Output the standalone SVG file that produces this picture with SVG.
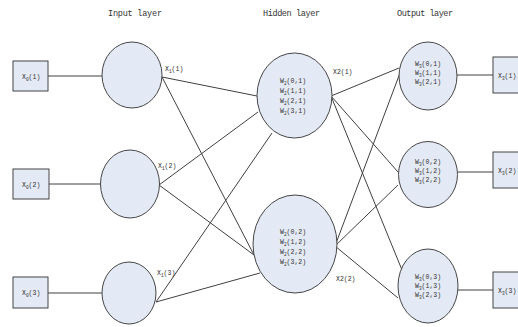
<svg xmlns="http://www.w3.org/2000/svg" width="518" height="327" viewBox="0 0 518 327">
<style>
.bg{fill:#ffffff}
.n{fill:#e4eaf5;stroke:#454545;stroke-width:1}
.c line{stroke:#404040;stroke-width:1}
text{font-family:"Liberation Mono","DejaVu Sans Mono",monospace;fill:#333}
.t{font-size:8.5px}
.s{font-size:6.5px}
.sub{font-size:4.5px}
</style>
<rect class="bg" x="0" y="0" width="518" height="327"/>
<g id="titles">
<text class="t" x="108" y="16" textLength="54">Input layer</text>
<text class="t" x="263" y="16" textLength="57">Hidden layer</text>
<text class="t" x="397" y="16" textLength="56">Output layer</text>
</g>
<g id="connectors" class="c">
<line x1="48" y1="76" x2="102" y2="76"/>
<line x1="49" y1="184" x2="100" y2="184"/>
<line x1="48" y1="293" x2="102" y2="293"/>
<line x1="162" y1="77" x2="257" y2="96"/>
<line x1="162" y1="77" x2="254" y2="255"/>
<line x1="159" y1="185" x2="258" y2="112"/>
<line x1="159" y1="185" x2="254" y2="255"/>
<line x1="156" y1="302" x2="272" y2="133"/>
<line x1="156" y1="302" x2="260" y2="273"/>
<line x1="331" y1="96" x2="399" y2="68"/>
<line x1="331" y1="96" x2="398" y2="172"/>
<line x1="331" y1="96" x2="402" y2="270"/>
<line x1="335" y1="246" x2="400" y2="73"/>
<line x1="335" y1="246" x2="398" y2="185"/>
<line x1="335" y1="246" x2="398" y2="298"/>
<line x1="457" y1="75" x2="493" y2="75"/>
<line x1="458" y1="172" x2="493" y2="172"/>
<line x1="458" y1="290" x2="493" y2="290"/>
</g>
<g id="in-box-1"><rect class="n" x="13" y="61" width="35" height="30"/><text class="s" x="22" y="79">X<tspan class="sub" dy="1.5">0</tspan><tspan dy="-1.5">(1)</tspan></text></g>
<g id="in-box-2"><rect class="n" x="13" y="169" width="36" height="30"/><text class="s" x="22" y="187">X<tspan class="sub" dy="1.5">0</tspan><tspan dy="-1.5">(2)</tspan></text></g>
<g id="in-box-3"><rect class="n" x="13" y="277" width="35" height="31"/><text class="s" x="22" y="295">X<tspan class="sub" dy="1.5">0</tspan><tspan dy="-1.5">(3)</tspan></text></g>
<g id="input-1"><ellipse class="n" cx="132" cy="75" rx="30" ry="33"/></g>
<g id="input-2"><ellipse class="n" cx="130" cy="184" rx="29.5" ry="34"/></g>
<g id="input-3"><ellipse class="n" cx="129" cy="293" rx="27" ry="31"/></g>
<g id="labels">
<text class="s" x="165" y="71">X<tspan class="sub" dy="1.5">1</tspan><tspan dy="-1.5">(1)</tspan></text>
<text class="s" x="158" y="168">X<tspan class="sub" dy="1.5">1</tspan><tspan dy="-1.5">(2)</tspan></text>
<text class="s" x="157" y="275">X<tspan class="sub" dy="1.5">1</tspan><tspan dy="-1.5">(3)</tspan></text>
<text class="s" x="333" y="74">X2(1)</text>
<text class="s" x="336" y="281">X2(2)</text>
</g>
<g id="hidden-1"><ellipse class="n" cx="294.5" cy="95.5" rx="37.5" ry="42.5"/>
<text class="s" x="280" y="83">W<tspan class="sub" dy="1.5">2</tspan><tspan dy="-1.5">(0,1)</tspan></text>
<text class="s" x="280" y="93">W<tspan class="sub" dy="1.5">2</tspan><tspan dy="-1.5">(1,1)</tspan></text>
<text class="s" x="280" y="103">W<tspan class="sub" dy="1.5">2</tspan><tspan dy="-1.5">(2,1)</tspan></text>
<text class="s" x="280" y="113">W<tspan class="sub" dy="1.5">2</tspan><tspan dy="-1.5">(3,1)</tspan></text>
</g>
<g id="hidden-2"><ellipse class="n" cx="295" cy="244" rx="42" ry="49"/>
<text class="s" x="280" y="234">W<tspan class="sub" dy="1.5">2</tspan><tspan dy="-1.5">(0,2)</tspan></text>
<text class="s" x="280" y="244">W<tspan class="sub" dy="1.5">2</tspan><tspan dy="-1.5">(1,2)</tspan></text>
<text class="s" x="280" y="254">W<tspan class="sub" dy="1.5">2</tspan><tspan dy="-1.5">(2,2)</tspan></text>
<text class="s" x="280" y="264">W<tspan class="sub" dy="1.5">2</tspan><tspan dy="-1.5">(3,2)</tspan></text>
</g>
<g id="output-1"><ellipse class="n" cx="428" cy="76" rx="29" ry="34"/>
<text class="s" x="415" y="66">W<tspan class="sub" dy="1.5">3</tspan><tspan dy="-1.5">(0,1)</tspan></text>
<text class="s" x="415" y="75">W<tspan class="sub" dy="1.5">3</tspan><tspan dy="-1.5">(1,1)</tspan></text>
<text class="s" x="415" y="84">W<tspan class="sub" dy="1.5">3</tspan><tspan dy="-1.5">(2,1)</tspan></text>
</g>
<g id="output-2"><ellipse class="n" cx="428" cy="174.5" rx="29.5" ry="33"/>
<text class="s" x="415" y="164">W<tspan class="sub" dy="1.5">3</tspan><tspan dy="-1.5">(0,2)</tspan></text>
<text class="s" x="415" y="173">W<tspan class="sub" dy="1.5">3</tspan><tspan dy="-1.5">(1,2)</tspan></text>
<text class="s" x="415" y="182">W<tspan class="sub" dy="1.5">3</tspan><tspan dy="-1.5">(2,2)</tspan></text>
</g>
<g id="output-3"><ellipse class="n" cx="428" cy="286" rx="30" ry="37"/>
<text class="s" x="415" y="279">W<tspan class="sub" dy="1.5">3</tspan><tspan dy="-1.5">(0,3)</tspan></text>
<text class="s" x="415" y="288">W<tspan class="sub" dy="1.5">3</tspan><tspan dy="-1.5">(1,3)</tspan></text>
<text class="s" x="415" y="297">W<tspan class="sub" dy="1.5">3</tspan><tspan dy="-1.5">(2,3)</tspan></text>
</g>
<g id="out-box-1"><rect class="n" x="493" y="57" width="36" height="36"/><text class="s" x="498" y="78">X<tspan class="sub" dy="1.5">3</tspan><tspan dy="-1.5">(1)</tspan></text></g>
<g id="out-box-2"><rect class="n" x="493" y="152" width="36" height="36"/><text class="s" x="498" y="173">X<tspan class="sub" dy="1.5">3</tspan><tspan dy="-1.5">(2)</tspan></text></g>
<g id="out-box-3"><rect class="n" x="493" y="272" width="36" height="36"/><text class="s" x="498" y="293">X<tspan class="sub" dy="1.5">3</tspan><tspan dy="-1.5">(3)</tspan></text></g>
</svg>
